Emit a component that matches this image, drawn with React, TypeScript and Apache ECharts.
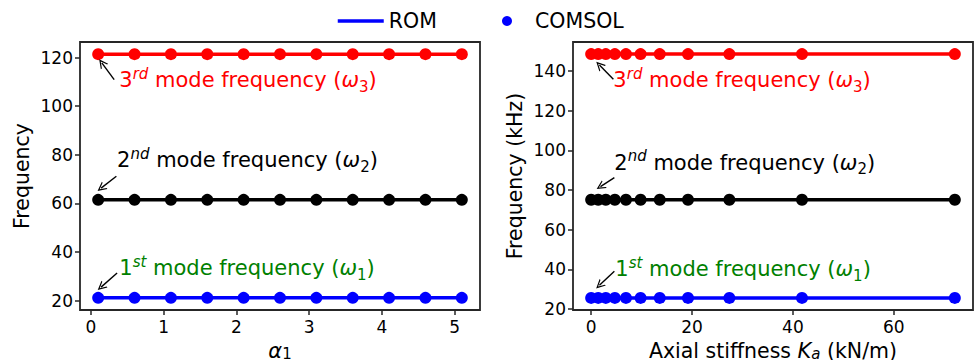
import React, { useEffect, useRef } from "react";
import * as echarts from "echarts";

const FONT = "DejaVu Sans";

// Left panel: alpha_1 sweep
const alpha = [0.1, 0.6, 1.1, 1.6, 2.1, 2.6, 3.1, 3.6, 4.1, 4.6, 5.1];
const leftRomW1 = [21.2, 21.2, 21.2, 21.2, 21.2, 21.2, 21.2, 21.2, 21.2, 21.2, 21.2];
const leftRomW2 = [61.5, 61.5, 61.5, 61.5, 61.5, 61.5, 61.5, 61.5, 61.5, 61.5, 61.5];
const leftRomW3 = [121.4, 121.4, 121.4, 121.4, 121.4, 121.4, 121.4, 121.4, 121.4, 121.4, 121.4];
const leftComW1 = [21.2, 21.2, 21.2, 21.2, 21.2, 21.2, 21.2, 21.2, 21.2, 21.2, 21.2];
const leftComW2 = [61.5, 61.5, 61.5, 61.5, 61.5, 61.5, 61.5, 61.5, 61.5, 61.5, 61.5];
const leftComW3 = [121.4, 121.4, 121.4, 121.4, 121.4, 121.4, 121.4, 121.4, 121.4, 121.4, 121.4];

// Right panel: axial stiffness sweep (kN/m)
const ka = [0, 1.4, 2.9, 4.7, 6.9, 9.8, 13.6, 19.2, 27.4, 41.8, 72.1];
const rightRomW1 = [25.7, 25.7, 25.7, 25.7, 25.7, 25.7, 25.7, 25.7, 25.7, 25.7, 25.7];
const rightRomW2 = [75.1, 75.1, 75.1, 75.1, 75.1, 75.1, 75.1, 75.1, 75.1, 75.1, 75.1];
const rightRomW3 = [148.4, 148.4, 148.4, 148.4, 148.4, 148.4, 148.4, 148.4, 148.4, 148.4, 148.4];
const rightComW1 = [25.7, 25.7, 25.7, 25.7, 25.7, 25.7, 25.7, 25.7, 25.7, 25.7, 25.7];
const rightComW2 = [75.1, 75.1, 75.1, 75.1, 75.1, 75.1, 75.1, 75.1, 75.1, 75.1, 75.1];
const rightComW3 = [148.4, 148.4, 148.4, 148.4, 148.4, 148.4, 148.4, 148.4, 148.4, 148.4, 148.4];

// Tick labels
const leftXTicks = [0, 1, 2, 3, 4, 5];
const leftYTicks = [20, 40, 60, 80, 100, 120];
const rightXTicks = [0, 20, 40, 60];
const rightYTicks = [20, 40, 60, 80, 100, 120, 140];

// Annotations (data coordinates): text anchor, arrow tail, arrow head
const modeOrd = ["st", "nd", "rd"];
const modeNum = ["1", "2", "3"];
const modeColors = ["#008000", "#000000", "#ff0000"];
const leftTextPos = [[0.39, 33.4], [0.36, 77.8], [0.39, 110.7]];
const leftArrowTail = [[0.36, 31.4], [0.35, 71.2], [0.32, 110.9]];
const leftArrowHead = [[0.14, 25.6], [0.14, 66.3], [0.15, 117.8]];
const rightTextPos = [[4.8, 40.1], [4.6, 93.8], [4.4, 135.3]];
const rightArrowTail = [[4.6, 39.1], [4.6, 86.2], [4.4, 135.8]];
const rightArrowHead = [[1.64, 32.0], [1.84, 81.7], [1.64, 142.9]];

const BLUE = "#0000ff";
const RED = "#ff0000";
const BLACK = "#000000";
const AXIS = "#262626";

const zip = (xs: number[], ys: number[]) => xs.map((x, i) => [x, ys[i]]);

function richFor(color: string) {
  return {
    n: { fontFamily: FONT, fontSize: 21, color, lineHeight: 28, verticalAlign: "middle" },
    s: { fontFamily: FONT, fontSize: 15, color, fontStyle: "italic", lineHeight: 14, verticalAlign: "top" },
    w: { fontFamily: FONT, fontSize: 21, color, fontStyle: "italic", lineHeight: 28, verticalAlign: "middle" },
    b: { fontFamily: FONT, fontSize: 15, color, lineHeight: 14, verticalAlign: "bottom" },
  };
}

function notes(textPos: number[][], tails: number[][], heads: number[][]) {
  const markPoint = {
    silent: true,
    symbol: "circle",
    symbolSize: 0,
    data: textPos.map((p, i) => ({
      coord: p,
      label: {
        show: true,
        position: "right",
        distance: 0,
        formatter: `{n|${modeNum[i]}}{s|${modeOrd[i]}}{n| mode frequency (}{w|ω}{b|${modeNum[i]}}{n|)}`,
        rich: richFor(modeColors[i]),
      },
    })),
  };
  const markLine = {
    silent: true,
    animation: false,
    symbol: ["none", "path://M0,10 L5,0 L10,10 L8.6,10 L5,3 L1.4,10 Z"],
    symbolSize: [9, 9],
    label: { show: false },
    lineStyle: { color: BLACK, width: 1.4, type: "solid" },
    emphasis: { disabled: true },
    data: tails.map((t, i) => [{ coord: t }, { coord: heads[i] }]),
  };
  return { markPoint, markLine };
}

function lineSeries(xs: number[], ys: number[], color: string, idx: number, extra: any = {}) {
  return {
    name: "ROM",
    type: "line",
    xAxisIndex: idx,
    yAxisIndex: idx,
    data: zip(xs, ys),
    symbol: "none",
    lineStyle: { color, width: 3.5 },
    itemStyle: { color },
    z: 2,
    ...extra,
  };
}

function dotSeries(xs: number[], ys: number[], color: string, idx: number) {
  return {
    name: "COMSOL",
    type: "scatter",
    xAxisIndex: idx,
    yAxisIndex: idx,
    data: zip(xs, ys),
    symbol: "circle",
    symbolSize: 12,
    itemStyle: { color, opacity: 1 },
    z: 3,
  };
}

function xAxis(idx: number, min: number, max: number, ticks: number[], name: string, rich: any) {
  return {
    type: "value",
    gridIndex: idx,
    min,
    max,
    name,
    nameLocation: "middle",
    nameGap: 25,
    nameTextStyle: { fontFamily: FONT, fontSize: 20.5, color: BLACK, lineHeight: 22, rich },
    axisLine: { show: false, onZero: false },
    axisTick: { show: true, inside: false, length: 5, customValues: ticks, lineStyle: { color: AXIS, width: 1.5 } },
    axisLabel: { show: true, customValues: ticks, margin: 8, fontFamily: FONT, fontSize: 17, color: BLACK },
    splitLine: { show: false },
  };
}

function yAxis(idx: number, min: number, max: number, ticks: number[], name: string, gap: number) {
  return {
    type: "value",
    gridIndex: idx,
    min,
    max,
    name,
    nameLocation: "middle",
    nameGap: gap,
    nameRotate: 90,
    nameTextStyle: { fontFamily: FONT, fontSize: 20.5, color: BLACK },
    axisLine: { show: false, onZero: false },
    axisTick: { show: true, inside: false, length: 5, customValues: ticks, lineStyle: { color: AXIS, width: 1.5 } },
    axisLabel: { show: true, customValues: ticks, margin: 7, fontFamily: FONT, fontSize: 17, color: BLACK },
    splitLine: { show: false },
  };
}

const subRich = {
  i: { fontFamily: FONT, fontSize: 21, fontStyle: "italic", color: BLACK, lineHeight: 22, verticalAlign: "middle" },
  t: { fontFamily: FONT, fontSize: 20.5, color: BLACK, lineHeight: 22, verticalAlign: "middle" },
  sb: { fontFamily: FONT, fontSize: 15, color: BLACK, lineHeight: 14, verticalAlign: "bottom" },
  si: { fontFamily: FONT, fontSize: 15, fontStyle: "italic", color: BLACK, lineHeight: 14, verticalAlign: "bottom" },
};

export default function App() {
  const ref = useRef<HTMLDivElement>(null);
  useEffect(() => {
    if (!ref.current) return;
    const chart = echarts.init(ref.current, null, { renderer: "svg" });
    const leftNotes = notes(leftTextPos, leftArrowTail, leftArrowHead);
    const rightNotes = notes(rightTextPos, rightArrowTail, rightArrowHead);
    const gridBase = {
      top: 42,
      width: 400,
      height: 268,
      show: true,
      borderColor: AXIS,
      borderWidth: 1.8,
      backgroundColor: "transparent",
      containLabel: false,
      outerBoundsMode: "none",
    };
    const legendText = { fontFamily: FONT, fontSize: 20.5, color: BLACK, lineHeight: 26 };
    chart.setOption({
      animation: false,
      backgroundColor: "#ffffff",
      textStyle: { fontFamily: FONT },
      legend: [
        {
          left: 331,
          top: 3,
          itemWidth: 46,
          itemHeight: 10,
          textStyle: legendText,
          data: [{ name: "ROM", itemStyle: { opacity: 0 }, lineStyle: { width: 3.5, color: BLUE } }],
          selectedMode: false,
        },
        {
          left: 497,
          top: 3,
          itemWidth: 10,
          itemHeight: 10,
          textStyle: { ...legendText, rich: { p: { width: 18 }, t: { ...legendText } } },
          formatter: (name: string) => `{p|}{t|${name}}`,
          data: [{ name: "COMSOL", icon: "circle" }],
          selectedMode: false,
        },
      ],
      grid: [
        { ...gridBase, left: 80 },
        { ...gridBase, left: 573 },
      ],
      xAxis: [
        xAxis(0, -0.15, 5.35, leftXTicks, "{i|α}{sb|1}", subRich),
        xAxis(1, -3.6, 75.7, rightXTicks, "{t|Axial stiffness }{i|K}{si|a}{t| (kN/m)}", subRich),
      ],
      yAxis: [
        yAxis(0, 16.2, 126.4, leftYTicks, "Frequency", 48),
        yAxis(1, 19.6, 154.5, rightYTicks, "Frequency (kHz)", 48),
      ],
      series: [
        lineSeries(alpha, leftRomW1, BLUE, 0, leftNotes),
        lineSeries(alpha, leftRomW2, BLACK, 0),
        lineSeries(alpha, leftRomW3, RED, 0),
        dotSeries(alpha, leftComW1, BLUE, 0),
        dotSeries(alpha, leftComW2, BLACK, 0),
        dotSeries(alpha, leftComW3, RED, 0),
        lineSeries(ka, rightRomW1, BLUE, 1, rightNotes),
        lineSeries(ka, rightRomW2, BLACK, 1),
        lineSeries(ka, rightRomW3, RED, 1),
        dotSeries(ka, rightComW1, BLUE, 1),
        dotSeries(ka, rightComW2, BLACK, 1),
        dotSeries(ka, rightComW3, RED, 1),
      ],
    });
    return () => chart.dispose();
  }, []);
  return (
    <div
      ref={ref}
      style={{ position: "absolute", left: 0, top: 0, width: 975, height: 360, background: "#fff" }}
    />
  );
}
